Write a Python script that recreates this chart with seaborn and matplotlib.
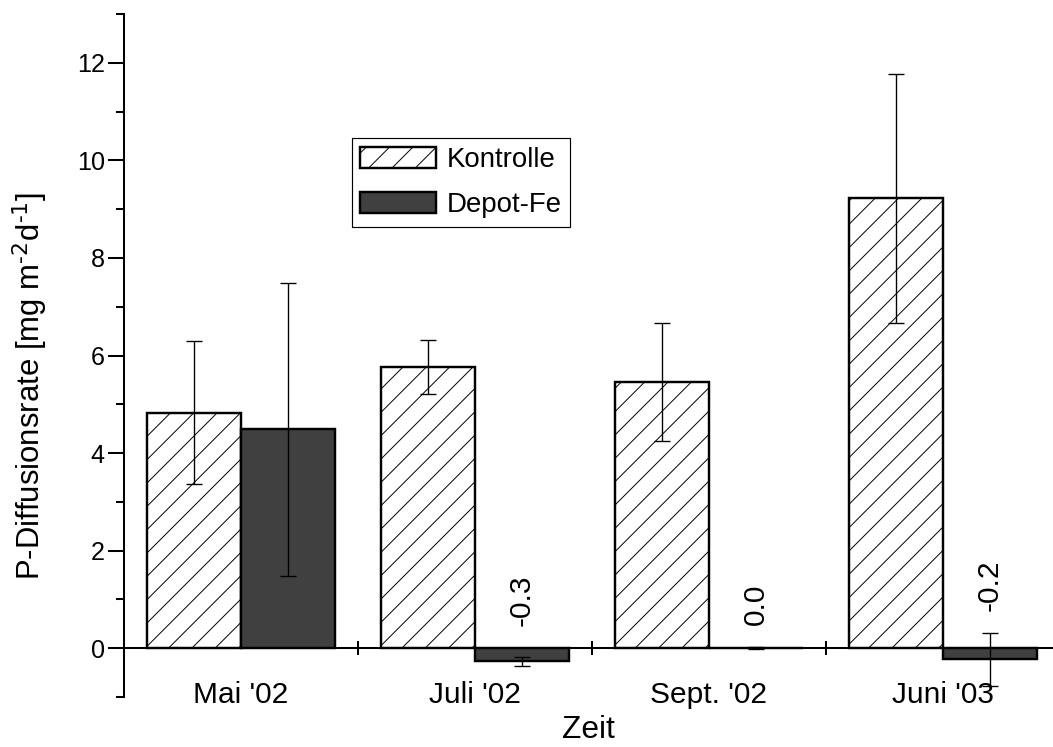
import matplotlib
matplotlib.use("Agg")
import matplotlib.pyplot as plt
import numpy as np
import pandas as pd
import seaborn as sns
from matplotlib.ticker import FixedLocator

# Messzeitpunkte und Behandlungen
zeitpunkte = ["Mai '02", "Juli '02", "Sept. '02", "Juni '03"]
gruppen = ["Kontrolle", "Depot-Fe"]

# Mittlere P-Diffusionsraten [mg m-2 d-1] und Standardabweichungen
kontrolle = [4.83, 5.77, 5.45, 9.22]
kontrolle_sd = [1.46, 0.55, 1.21, 2.56]
depot_fe = [4.49, -0.27, 0.0, -0.23]
depot_fe_sd = [3.00, 0.10, 0.02, 0.54]

y_major = [0, 2, 4, 6, 8, 10, 12]
y_minor = [-1, 1, 3, 5, 7, 9, 11, 13]

sns.set_theme(style="ticks")
plt.rcParams["font.family"] = ["Liberation Sans", "DejaVu Sans"]
plt.rcParams["mathtext.default"] = "regular"
plt.rcParams["hatch.linewidth"] = 0.5
plt.rcParams["hatch.color"] = "black"

df = pd.DataFrame({
    "Zeit": zeitpunkte * 2,
    "Gruppe": [gruppen[0]] * len(zeitpunkte) + [gruppen[1]] * len(zeitpunkte),
    "Rate": kontrolle + depot_fe,
})

W, H, DPI = 1053, 747, 140
fig = plt.figure(figsize=(W / DPI, H / DPI), dpi=DPI)
ax = fig.add_axes([124 / W, 50 / H, (W - 124) / W, (697 - 14) / H])

sns.barplot(data=df, x="Zeit", y="Rate", hue="Gruppe", order=zeitpunkte,
            hue_order=gruppen, palette=["white", "#404040"], saturation=1,
            width=0.8, errorbar=None, edgecolor="black", linewidth=1.25,
            legend=False, ax=ax, zorder=2)

# Schraffur für die Kontrolle
for bar in ax.containers[0]:
    bar.set_hatch("//")

# Fehlerbalken
for cont, vals, sds in zip(ax.containers, [kontrolle, depot_fe],
                           [kontrolle_sd, depot_fe_sd]):
    xs = [p.get_x() + p.get_width() / 2 for p in cont]
    ax.errorbar(xs, vals, yerr=sds, fmt="none", ecolor="black",
                elinewidth=0.7, capsize=3.9, capthick=0.7, zorder=4)

# Wertebeschriftung der Depot-Fe-Balken
xs_depot = [p.get_x() + p.get_width() / 2 for p in ax.containers[1]]
for i in range(1, len(zeitpunkte)):
    v, s = depot_fe[i], depot_fe_sd[i]
    ax.text(xs_depot[i], max(0.0, v + s) + 0.45, f"{v:.1f}", rotation=90,
            ha="center", va="bottom", fontsize=15.4, color="black", zorder=5)

# Achsen
ax.set_xlim(-0.5, -0.5 + (W - 124) / 234)
ax.set_ylim(-1, 13)
for side in ["top", "right"]:
    ax.spines[side].set_visible(False)
ax.spines["bottom"].set_position(("data", 0))
ax.spines["left"].set_bounds(-1, 13)
for side in ["left", "bottom"]:
    ax.spines[side].set_color("black")
    ax.spines[side].set_linewidth(1.05)
    ax.spines[side].set_zorder(3)

ax.yaxis.set_major_locator(FixedLocator(y_major))
ax.yaxis.set_minor_locator(FixedLocator(y_minor))
ax.tick_params(axis="y", which="major", direction="out", length=8.2,
               width=1.05, color="black", labelsize=12.9, pad=1.7,
               labelcolor="black")
ax.tick_params(axis="y", which="minor", direction="out", length=4.1,
               width=1.05, color="black")

ax.set_xticks(range(len(zeitpunkte)))
ax.set_xticklabels(zeitpunkte)
ax.xaxis.set_minor_locator(FixedLocator([i + 0.5 for i in range(len(zeitpunkte) - 1)]))
ax.tick_params(axis="x", which="major", length=0, labelsize=15.4, pad=17,
               labelcolor="black")
ax.tick_params(axis="x", which="minor", direction="inout", length=7.7,
               width=1.05, color="black")

ax.set_xlabel("Zeit", fontsize=16.3, color="black")
ax.xaxis.set_label_coords(0.5, -0.026)
ax.set_ylabel("P-Diffusionsrate [mg m$^{\\text{-2}}$d$^{\\text{-1}}$]",
              fontsize=16, color="black")
ax.yaxis.set_label_coords(-0.101, 0.455)
ax.yaxis.label.set_verticalalignment("center")

# Legende
handles = [ax.containers[0][0], ax.containers[1][0]]
leg = ax.legend(handles, gruppen, loc="upper left",
                bbox_to_anchor=(0.2454, 0.818), borderaxespad=0,
                fontsize=14.2, frameon=True, fancybox=False,
                edgecolor="black", framealpha=1, handlelength=2.75,
                handleheight=0.8, handletextpad=0.38, labelspacing=0.7,
                borderpad=0.3)
leg.get_frame().set_linewidth(0.6)
for t in leg.get_texts():
    t.set_color("black")

fig.savefig("out.png", dpi=DPI)
